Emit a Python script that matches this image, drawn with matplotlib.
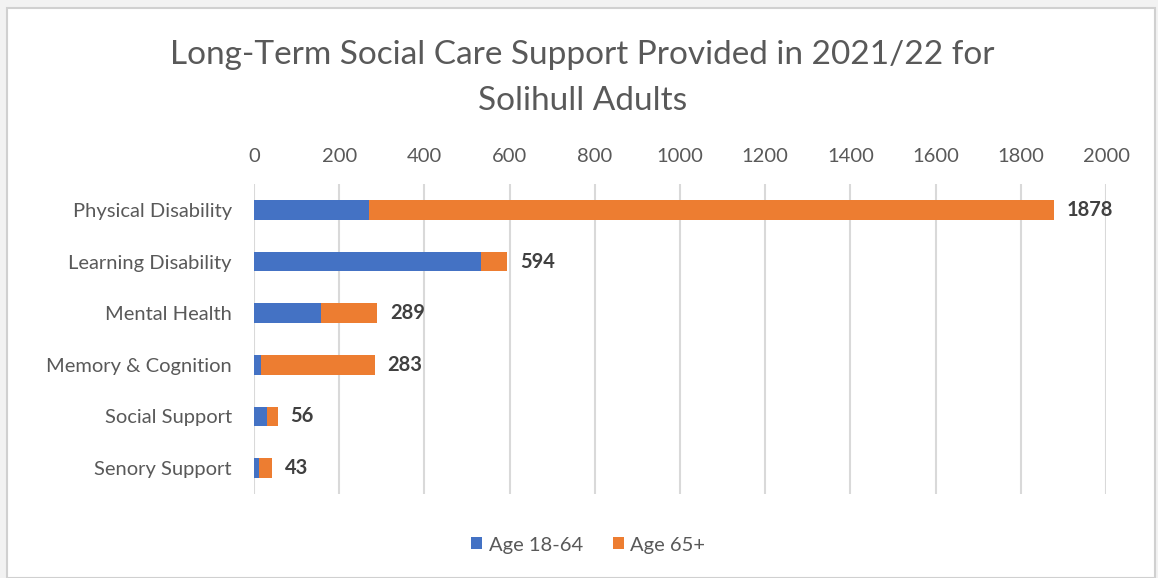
import matplotlib.pyplot as plt
import matplotlib.patches as patches

categories = ['Physical Disability', 'Learning Disability', 'Mental Health',
              'Memory & Cognition', 'Social Support', 'Senory Support']
totals = [1878, 594, 289, 283, 56, 43]
age_18_64 = [270, 532, 158, 17, 30, 11]
age_65_plus = [t - a for t, a in zip(totals, age_18_64)]
xticks = list(range(0, 2001, 200))

blue = '#4472c4'
orange = '#ed7d31'
grey_text = '#595959'

plt.rcParams['font.family'] = ['Lato', 'DejaVu Sans']

W, H = 1158, 578
fig = plt.figure(figsize=(W / 100, H / 100), dpi=100)
fig.patch.set_facecolor('#f2f2f2')

# white chart area with a thin grey frame
fig.patches.append(patches.Rectangle((7 / W, 0), (1155 - 7) / W, (H - 8) / H,
                                     transform=fig.transFigure, facecolor='white',
                                     edgecolor='#d0d0d0', linewidth=1.5, zorder=-10))

ax = fig.add_axes([254 / W, (H - 494) / H, (1106 - 254) / W, (494 - 184) / H])
ax.set_facecolor('white')

y = list(range(len(categories)))
ax.barh(y, age_18_64, height=0.38, color=blue, label='Age 18-64', zorder=3)
ax.barh(y, age_65_plus, left=age_18_64, height=0.38, color=orange,
        label='Age 65+', zorder=3)

for yi, t in zip(y, totals):
    ax.text(t + 30, yi, str(t), va='center', ha='left', fontsize=14.5,
            fontweight='bold', color='#404040')

ax.set_xlim(0, 2000)
ax.set_ylim(len(categories) - 0.5, -0.5)
ax.set_xticks(xticks)
ax.xaxis.tick_top()
ax.tick_params(axis='x', length=0, pad=14, labelsize=14.5, labelcolor=grey_text)
ax.set_yticks(y)
ax.set_yticklabels(categories)
ax.tick_params(axis='y', length=0, pad=16, labelsize=14.5, labelcolor=grey_text)
ax.grid(axis='x', color='#d9d9d9', linewidth=1.5, zorder=0)
for s in ax.spines.values():
    s.set_visible(False)

fig.text(0.503, (H - 78) / H, 'Long-Term Social Care Support Provided in 2021/22 for\nSolihull Adults',
         ha='center', va='center', fontsize=24, color=grey_text, linespacing=1.65)

fig.legend(loc='center', bbox_to_anchor=(0.508, (H - 545) / H), ncol=2, frameon=False,
           fontsize=14.5, labelcolor=grey_text, handlelength=0.55, handleheight=0.55,
           handletextpad=0.3, columnspacing=1.5)

fig.savefig('out.png', dpi=100)
